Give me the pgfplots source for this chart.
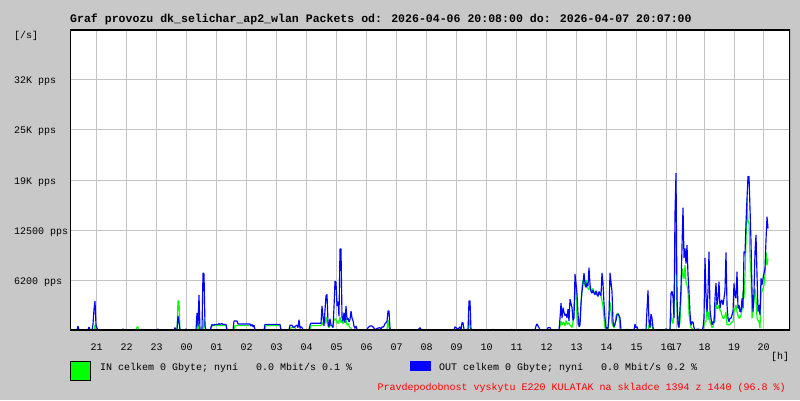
\documentclass[border=0pt]{standalone}
\usepackage{fontspec}
\setmainfont{Liberation Mono}
\usepackage{pgfplots}
\pgfplotsset{compat=1.18}
\definecolor{bg}{RGB}{200,200,200}
\definecolor{gridc}{RGB}{196,196,196}
\definecolor{inc}{RGB}{0,255,0}
\definecolor{outc}{RGB}{0,0,255}
\begin{document}
\begin{tikzpicture}[x=1pt,y=1pt]
\fill[bg] (0,0) rectangle (800,400);
\begin{axis}[
  at={(70pt,70pt)}, anchor=south west,
  width=720pt, height=300pt, scale only axis,
  xmin=70, xmax=790, ymin=0, ymax=37500,
  axis background/.style={fill=white},
  axis line style={draw=none},
  scaled y ticks=false, scaled x ticks=false,
  major tick length=0pt, tick style={draw=none},
  grid=major, grid style={gridc, line width=1pt},
  ytick={6250,12500,18750,25000,31250},
  yticklabels={6200 pps,12500 pps,19K pps,25K pps,32K pps},
  yticklabel style={anchor=base west, inner sep=0pt, xshift=-56pt, yshift=-4pt},
  xtick={96.5,126.5,156.5,186.5,216.5,246.5,276.5,306.5,336.5,366.5,396.5,426.5,456.5,486.5,516.5,546.5,576.5,606.5,636.5,666.5,676,704.5,734,763.5},
  xticklabels={21,22,23,00,01,02,03,04,05,06,07,08,09,10,11,12,13,14,15,16,17,18,19,20},
  xticklabel style={anchor=base, inner sep=0pt, yshift=-20pt},
  every axis plot/.append style={line width=1.15pt, line join=bevel},
]
\addplot[inc, sharp plot] coordinates {
(71,0)(77,0)(78,250)(79,0)(94,0)(95,600)(96,0)(136,0)(137,375)(138,375)(139,0)(177,0)(178,3625)(179,3625)(180,0)(197,0)(198,1000)(199,0)(203,0)(204,1400)(205,300)(206,0)
(211,0)(212,550)(226,550)(227,0)(234,0)(235,550)(254,550)(255,0)(265,0)(266,550)(280,550)(281,0)(290,0)(291,300)(295,300)(296,0)
(310,0)(311,550)(321,550)(322,1000)(323,600)(324,1125)(325,800)(326,1650)(327,1000)(328,500)(329,300)(330,600)(333,400)(334,1200)(335,1400)(336,1300)(337,1000)(338,800)(339,1100)(340,1600)(341,900)(342,1200)(343,800)(344,1100)(345,2000)(346,1500)(347,600)(348,800)(349,500)(350,300)(351,200)(352,0)
(387,0)(388,1250)(389,300)(390,0)(468,0)(469,1450)(470,300)(471,0)
(559,0)(560,500)(561,1100)(562,600)(563,1000)(564,900)(565,500)(566,1200)(567,700)(568,800)(569,900)(570,600)(571,500)(572,300)(573,1000)(574,2500)(575,5500)(576,4800)(577,1500)(578,600)(579,800)(580,1000)(581,3000)(582,5400)(583,6250)(584,5800)(585,5500)(586,6250)(587,5800)(588,5200)(589,5000)(590,5500)(591,5000)(592,4800)(593,5200)(594,4600)(595,4800)(596,4500)(597,4700)(598,4600)(599,4400)(600,4800)(601,4200)(602,3600)(603,3000)(604,1500)(605,300)(606,0)(608,0)(609,1500)(610,3500)(611,2500)(612,800)(613,500)(614,300)(615,600)(616,1800)(617,2000)(618,2100)(619,1700)(620,0)
(626,0)(627,100)(628,0)(648,0)(649,700)(650,300)(651,600)(652,900)(653,0)
(670,0)(671,2125)(672,1200)(673,800)(674,2000)(675,9000)(676,12500)(677,3000)(678,500)(679,300)(680,1000)(681,3800)(682,7700)(683,7000)(684,6400)(685,8100)(686,6000)(687,5600)(688,4800)(689,2000)(690,1000)(691,300)(692,200)(693,0)
(703,0)(704,600)(705,1000)(706,1040)(707,3960)(708,1250)(709,2290)(710,1000)(711,700)(712,300)(713,400)(714,1460)(715,1000)(716,3540)(717,2700)(718,2700)(719,3125)(720,2500)(721,2290)(722,1800)(723,1460)(724,1460)(725,1800)(726,2290)(727,625)(728,700)(729,625)(730,700)(731,850)(732,1040)(733,1000)(734,2290)(735,2700)(736,3125)(737,2290)(738,1800)(739,1460)(740,1600)(741,1875)(742,2500)(743,4800)(744,3960)(745,6875)(746,11040)(747,16400)(748,13500)(749,13500)(750,9000)(751,6875)(752,1460)(753,2290)(754,3500)(755,5200)(756,4000)(757,1460)(758,1200)(759,1040)(760,200)(761,4580)(762,4790)(763,5200)(764,5600)(765,6875)(766,9800)(767,8100)(768,8900)
};
\addplot[outc, sharp plot] coordinates {
(71,0)(77,0)(78,500)(79,0)(88,0)(89,375)(90,0)(92,0)(93,700)(94,2600)(95,3625)(96,600)(97,250)(98,0)
(122,0)(123,125)(124,0)(157,0)(158,125)(159,0)(174,0)(175,300)(176,0)(177,0)(178,1750)(179,1000)(180,0)(185,0)(186,125)(187,0)
(196,0)(197,2150)(198,500)(199,4375)(200,0)(202,0)(203,7150)(204,7000)(205,500)(206,0)
(210,0)(212,700)(213,600)(215,700)(218,700)(219,800)(220,700)(222,800)(223,700)(226,700)(227,0)
(233,0)(234,1125)(237,1125)(238,750)(250,750)(251,500)(252,700)(253,400)(254,600)(255,0)
(264,0)(265,700)(280,700)(281,0)
(289,0)(290,600)(292,600)(293,400)(294,300)(295,450)(297,600)(298,300)(299,1300)(300,200)(301,400)(302,300)(303,0)
(309,0)(310,600)(311,850)(321,850)(322,3000)(323,1600)(324,500)(325,2500)(326,4250)(327,4450)(328,1000)(329,400)(330,1400)(331,600)(332,600)(333,300)(334,2850)(335,6100)(336,6000)(337,3000)(338,3550)(339,1700)(340,10125)(341,10125)(342,1600)(343,1100)(344,2150)(345,900)(346,3000)(347,1300)(348,1500)(349,1000)(350,1300)(351,2375)(352,1500)(353,1200)(354,500)(355,200)(356,500)(357,100)(358,0)
(367,0)(368,300)(370,500)(372,500)(374,250)(375,0)(377,200)(380,300)(381,0)(382,400)(383,350)(384,500)(385,800)(386,900)(387,1125)(388,2375)(389,2375)(390,200)(391,0)
(418,0)(420,300)(421,0)(422,100)(423,0)
(454,0)(455,400)(456,300)(458,100)(460,400)(461,0)(462,900)(463,900)(464,100)(465,0)
(468,0)(469,3625)(470,3625)(471,0)(472,100)(473,0)
(492,0)(493,100)(494,0)(510,0)(511,100)(512,0)
(535,0)(536,500)(537,750)(538,500)(539,300)(540,0)(547,0)(548,300)(550,300)(551,0)
(559,0)(560,1450)(561,3350)(562,1500)(563,2800)(564,2200)(565,1800)(566,2000)(567,1500)(568,2600)(569,1100)(570,3850)(571,3350)(572,2800)(573,1200)(574,1500)(575,7000)(576,5850)(577,4500)(578,2000)(579,400)(580,600)(581,3350)(582,4800)(583,5850)(584,7100)(585,5800)(586,5300)(587,5900)(588,5500)(589,7800)(590,5700)(591,4800)(592,4600)(593,5000)(594,4600)(595,4400)(596,4900)(597,4400)(598,4200)(599,4800)(600,4500)(601,4300)(602,7150)(603,5800)(604,3300)(605,1500)(606,200)(607,300)(608,200)(609,2000)(610,7150)(611,6000)(612,4800)(613,1000)(614,400)(615,800)(616,1200)(617,1900)(618,2000)(619,1800)(620,1500)(621,0)
(626,0)(627,100)(628,0)(634,0)(635,750)(636,300)(637,400)(638,0)(642,0)(643,100)(644,0)
(646,0)(647,2540)(648,4960)(649,1000)(650,300)(651,2000)(652,1500)(653,300)(654,0)
(665,0)(666,150)(667,0)
(670,0)(671,4625)(672,4830)(673,4200)(674,1500)(675,14600)(676,19600)(677,4000)(678,800)(679,300)(680,2700)(681,5200)(682,10400)(683,15300)(684,9000)(685,10200)(686,8300)(687,10600)(688,6900)(689,4800)(690,2100)(691,600)(692,1000)(693,1000)(694,300)(695,0)
(696,0)(697,100)(699,100)(700,0)
(702,0)(703,300)(704,1500)(705,9000)(706,4160)(707,2290)(708,4790)(709,9800)(710,2540)(711,1460)(712,625)(713,1040)(714,850)(715,4000)(716,5850)(717,3125)(718,3960)(719,6040)(720,2700)(721,3540)(722,3750)(723,3125)(724,3960)(725,5000)(726,9700)(727,3125)(728,1460)(729,1040)(730,1460)(731,1460)(732,1875)(733,2290)(734,5830)(735,4375)(736,3960)(737,7300)(738,2700)(739,3125)(740,2290)(741,2290)(742,3960)(743,2700)(744,9800)(745,9580)(746,13330)(747,16460)(748,19200)(749,19200)(750,15200)(751,11040)(752,4790)(753,2290)(754,4790)(755,9800)(756,11875)(757,6875)(758,2290)(759,3125)(760,1875)(761,6460)(762,5625)(763,6460)(764,7080)(765,7700)(766,11250)(767,14160)(768,12700)
};
\draw[black, line width=1.2pt] (rel axis cs:0,0) rectangle (rel axis cs:1,1);
\end{axis}
\node[anchor=base west, inner sep=0pt, font=\fontsize{11.55}{14}\selectfont\bfseries] at (70,377) {Graf provozu dk\_selichar\_ap2\_wlan Packets od: 2026-04-06 20:08:00 do: 2026-04-07 20:07:00};
\node[anchor=base west, inner sep=0pt] at (14,361) {[/s]};
\node[anchor=base west, inner sep=0pt] at (771,41) {[h]};
\draw[fill=inc, draw=black, line width=1pt] (70.5,20) rectangle (90.5,39);
\fill[outc] (410,29) rectangle (431,39);
\node[anchor=base west, inner sep=0pt] at (100,30) {IN celkem 0 Gbyte; nyní~~~0.0 Mbit/s 0.1 \%};
\node[anchor=base west, inner sep=0pt] at (439,30) {OUT celkem 0 Gbyte; nyní~~~0.0 Mbit/s 0.2 \%};
\node[anchor=base east, inner sep=0pt, text=red] at (786,10) {Pravdepodobnost vyskytu E220 KULATAK na skladce 1394 z 1440 (96.8 \%)};
\end{tikzpicture}
\end{document}
